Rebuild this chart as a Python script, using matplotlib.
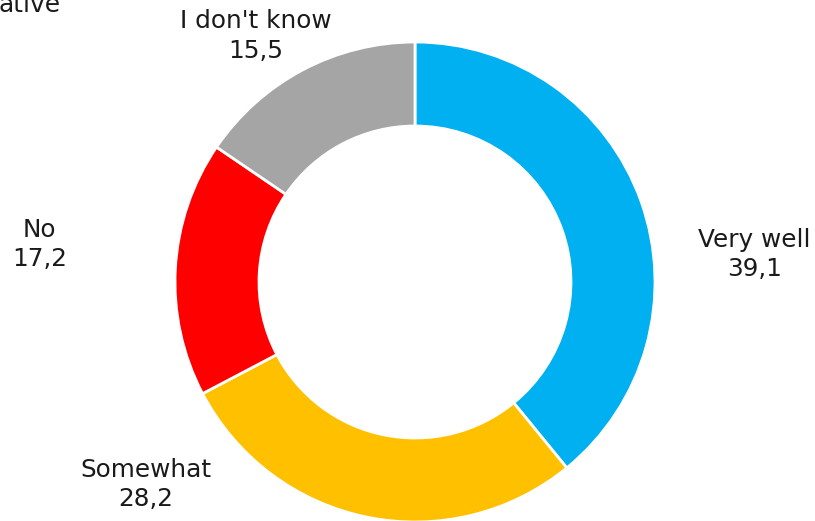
import matplotlib
matplotlib.use('Agg')
import matplotlib.pyplot as plt

matplotlib.rcParams['font.family'] = 'DejaVu Sans'

# data
categories = ['Very well', 'Somewhat', 'No', "I don't know"]
values = [39.1, 28.2, 17.2, 15.5]
colors = ['#00B0F0', '#FFC000', '#FF0000', '#A5A5A5']
value_labels = ['39,1', '28,2', '17,2', '15,5']

# label centres, in units of the outer radius (pie centre = 0,0)
label_pos = [(1.415, 0.115), (-1.12, -0.845), (-1.565, 0.155), (-0.665, 1.025)]

fig = plt.figure(figsize=(8.15, 5.21), dpi=100)
ax = fig.add_axes([0, 0, 1, 1])

# donut, starting at 12 o'clock and going clockwise
ax.pie(values, colors=colors, startangle=90, counterclock=False, radius=1.0,
       wedgeprops=dict(width=0.35, edgecolor='white', linewidth=2))

for cat, val, (x, y) in zip(categories, value_labels, label_pos):
    ax.text(x, y, cat + '\n' + val, ha='center', va='center',
            fontsize=17.8, color='#1a1a1a', linespacing=1.28)

# pie centre at pixel (415, 282), radius 240 px
ax.set_xlim(-415 / 240, 400 / 240)
ax.set_ylim(-239 / 240, 282 / 240)
ax.set_aspect('auto')
ax.axis('off')

# cropped title fragment at the top left
fig.text(61 / 815, 1 - 12 / 521, 'ative', ha='right', va='baseline',
         fontsize=18, color='#1a1a1a')

fig.savefig('out.png', dpi=100)
